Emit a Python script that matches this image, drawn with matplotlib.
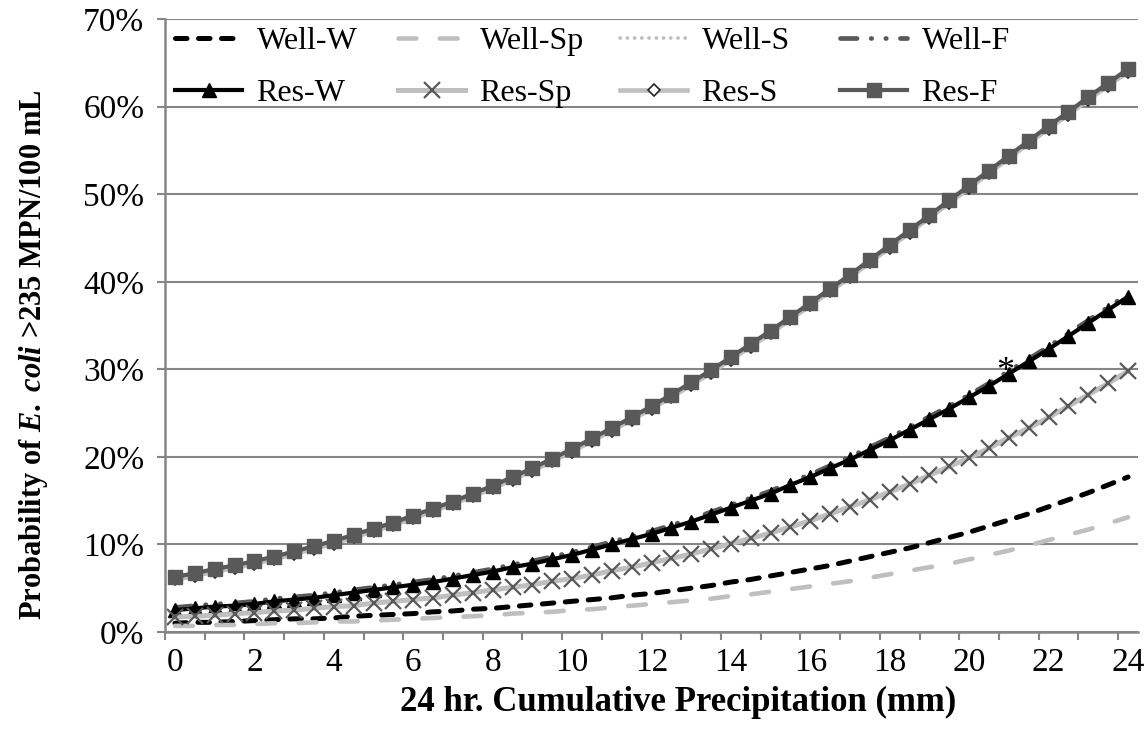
import numpy as np
import matplotlib
matplotlib.use("Agg")
import matplotlib.pyplot as plt
from matplotlib.ticker import FixedLocator, NullFormatter, FixedFormatter

plt.rcParams['font.family'] = ['Liberation Serif', 'DejaVu Serif']
plt.rcParams['mathtext.fontset'] = 'custom'
plt.rcParams['mathtext.it'] = 'Liberation Serif:italic:bold'
plt.rcParams['mathtext.rm'] = 'Liberation Serif:bold'

# 24 h cumulative precipitation (mm), one point every 0.5 mm
precip = np.arange(0, 24.5, 0.5)

# probability of E. coli > 235 MPN/100 mL (%)
well_w = [1.0, 1.1, 1.1, 1.2, 1.3, 1.4, 1.5, 1.5, 1.6, 1.8, 1.9, 2.0, 2.1, 2.3, 2.4, 2.6, 2.7,
          2.9, 3.1, 3.3, 3.5, 3.7, 3.9, 4.2, 4.4, 4.7, 5.0, 5.3, 5.7, 6.0, 6.4, 6.8, 7.2, 7.6,
          8.1, 8.6, 9.1, 9.6, 10.2, 10.8, 11.4, 12.1, 12.8, 13.5, 14.3, 15.1, 15.9, 16.8, 17.7]
well_sp = [0.7, 0.7, 0.8, 0.8, 0.9, 1.0, 1.0, 1.1, 1.2, 1.2, 1.3, 1.4, 1.5, 1.6, 1.7, 1.8, 1.9,
           2.1, 2.2, 2.3, 2.5, 2.6, 2.8, 3.0, 3.2, 3.4, 3.6, 3.8, 4.1, 4.3, 4.6, 4.9, 5.2, 5.5,
           5.8, 6.2, 6.6, 7.0, 7.4, 7.8, 8.3, 8.8, 9.3, 9.9, 10.5, 11.1, 11.7, 12.4, 13.1]
well_s = [6.2, 6.6, 7.1, 7.5, 8.0, 8.5, 9.1, 9.7, 10.3, 11.0, 11.7, 12.4, 13.2, 14.0, 14.8, 15.7,
          16.6, 17.6, 18.6, 19.7, 20.8, 22.0, 23.2, 24.4, 25.7, 27.0, 28.4, 29.8, 31.3, 32.8,
          34.3, 35.9, 37.5, 39.1, 40.7, 42.4, 44.1, 45.8, 47.5, 49.2, 50.9, 52.6, 54.3, 56.0,
          57.7, 59.3, 61.0, 62.6, 64.2]
well_f = [2.8, 3.0, 3.2, 3.3, 3.5, 3.8, 4.0, 4.2, 4.5, 4.8, 5.1, 5.4, 5.7, 6.0, 6.4, 6.8, 7.2,
          7.7, 8.1, 8.6, 9.1, 9.7, 10.3, 10.9, 11.5, 12.2, 12.9, 13.7, 14.5, 15.3, 16.1, 17.1,
          18.0, 19.0, 20.0, 21.1, 22.2, 23.4, 24.6, 25.8, 27.1, 28.4, 29.8, 31.2, 32.6, 34.1,
          35.6, 37.1, 38.6]
res_w = [2.5, 2.7, 2.9, 3.0, 3.2, 3.5, 3.7, 3.9, 4.2, 4.5, 4.8, 5.1, 5.4, 5.7, 6.1, 6.5, 6.9,
         7.4, 7.8, 8.3, 8.8, 9.4, 10.0, 10.6, 11.2, 11.9, 12.6, 13.4, 14.2, 15.0, 15.8, 16.8,
         17.7, 18.7, 19.7, 20.8, 21.9, 23.1, 24.3, 25.5, 26.8, 28.1, 29.5, 30.9, 32.3, 33.8,
         35.3, 36.8, 38.3]
res_sp = [1.7, 1.8, 1.9, 2.1, 2.2, 2.4, 2.5, 2.7, 2.9, 3.0, 3.3, 3.5, 3.7, 3.9, 4.2, 4.5, 4.8,
          5.1, 5.4, 5.8, 6.1, 6.5, 7.0, 7.4, 7.9, 8.4, 8.9, 9.5, 10.1, 10.7, 11.3, 12.0, 12.7,
          13.5, 14.3, 15.1, 16.0, 16.9, 17.9, 18.9, 19.9, 21.0, 22.2, 23.3, 24.5, 25.8, 27.1,
          28.4, 29.8]
res_s = [6.0, 6.4, 6.9, 7.3, 7.8, 8.3, 8.9, 9.5, 10.1, 10.8, 11.5, 12.2, 13.0, 13.8, 14.6, 15.5,
         16.4, 17.4, 18.4, 19.5, 20.6, 21.8, 23.0, 24.2, 25.5, 26.8, 28.2, 29.6, 31.1, 32.6,
         34.1, 35.7, 37.3, 38.9, 40.5, 42.2, 43.9, 45.6, 47.3, 49.0, 50.7, 52.4, 54.1, 55.8,
         57.5, 59.1, 60.8, 62.4, 64.0]
res_f = [6.3, 6.7, 7.2, 7.6, 8.1, 8.6, 9.2, 9.8, 10.4, 11.1, 11.8, 12.5, 13.3, 14.1, 14.9, 15.8,
         16.7, 17.7, 18.7, 19.8, 20.9, 22.1, 23.3, 24.5, 25.8, 27.1, 28.5, 29.9, 31.4, 32.9,
         34.4, 36.0, 37.6, 39.2, 40.8, 42.5, 44.2, 45.9, 47.6, 49.3, 51.0, 52.7, 54.4, 56.1,
         57.8, 59.4, 61.1, 62.7, 64.3]

x_labels = [0, 2, 4, 6, 8, 10, 12, 14, 16, 18, 20, 22, 24]
y_ticks = [0, 10, 20, 30, 40, 50, 60, 70]

BLACK = '#000000'
LIGHT = '#BFBFBF'
DARK = '#595959'
GRID = '#868686'

fig = plt.figure(figsize=(11.46, 7.34), dpi=100)
ax = fig.add_axes([0.144, 0.139, 0.849, 0.835])

h = {}
h['Well-W'], = ax.plot(precip, well_w, color=BLACK, lw=3.6, ls=(0, (2.3, 2.3)),
                       dash_capstyle='round', label='Well-W')
h['Well-Sp'], = ax.plot(precip, well_sp, color=LIGHT, lw=3.3, ls=(0, (3.9, 5.1)),
                        dash_capstyle='round', label='Well-Sp')
h['Well-S'], = ax.plot(precip, well_s, color=LIGHT, lw=2.6, ls=(0, (0.1, 1.9)),
                       dash_capstyle='round', label='Well-S')
h['Well-F'], = ax.plot(precip, well_f, color=DARK, lw=3.4, ls=(0, (3.5, 3, 0.1, 3, 0.1, 3)),
                       dash_capstyle='round', label='Well-F')
h['Res-W'], = ax.plot(precip, res_w, color=BLACK, lw=3.0, marker='^', ms=10,
                      mfc=BLACK, mec=BLACK, label='Res-W')
h['Res-Sp'], = ax.plot(precip, res_sp, color=LIGHT, lw=3.6, marker='x', ms=11,
                       mec=DARK, mew=1.6, label='Res-Sp')
h['Res-S'], = ax.plot(precip, res_s, color=LIGHT, lw=3.3, marker='D', ms=6,
                      mfc='white', mec='#262626', mew=1.2, label='Res-S')
h['Res-F'], = ax.plot(precip, res_f, color=DARK, lw=3.0, marker='s', ms=10.5,
                      mfc=DARK, mec=DARK, label='Res-F')

ax.text(20.9, 29.6, '*', fontsize=26, ha='center', va='center')

ax.set_xlim(-0.25, 24.25)
ax.set_ylim(0, 70)

# tick marks between categories, labels every 2 mm
ax.xaxis.set_major_locator(FixedLocator([k - 0.25 for k in range(25)]))
ax.xaxis.set_major_formatter(NullFormatter())
ax.xaxis.set_minor_locator(FixedLocator(x_labels))
ax.xaxis.set_minor_formatter(FixedFormatter([str(v) for v in x_labels]))
ax.tick_params(axis='x', which='major', length=6, width=1.5, color=GRID, direction='out')
ax.tick_params(axis='x', which='minor', length=0, labelsize=24, pad=11)

ax.set_yticks(y_ticks)
ax.set_yticklabels([f'{v}%' for v in y_ticks])
ax.tick_params(axis='y', length=6, width=1.5, color=GRID, direction='out', labelsize=24, pad=9)

ax.grid(axis='y', color=GRID, lw=1.5)
ax.set_axisbelow(True)
for side in ['top', 'right']:
    ax.spines[side].set_visible(False)
for side in ['left', 'bottom']:
    ax.spines[side].set_color(GRID)
    ax.spines[side].set_linewidth(1.8)

ax.set_xlabel('24 hr. Cumulative Precipitation (mm)', fontsize=25, fontweight='bold')
ax.xaxis.set_label_coords(0.527, -0.088)
ax.set_ylabel(r'Probability of $\mathit{E.\ coli}$ >235 MPN/100 mL', fontsize=22,
              fontweight='bold')
ax.yaxis.set_label_coords(-0.118, 0.452)

# legend: four equally spaced columns (Well row on top, Res row below)
columns = [('Well-W', 'Res-W'), ('Well-Sp', 'Res-Sp'), ('Well-S', 'Res-S'), ('Well-F', 'Res-F')]
col_x = [0.0103, 0.2395, 0.4676, 0.6937]
for i, (top, bottom) in enumerate(columns):
    leg = ax.legend([h[top], h[bottom]], [top, bottom], loc='upper left',
                    bbox_to_anchor=(col_x[i], 0.988), frameon=False, fontsize=23,
                    handlelength=2.1, handletextpad=0.45, labelspacing=0.72,
                    borderpad=0.0, borderaxespad=0.0)
    if i < len(columns) - 1:
        ax.add_artist(leg)

fig.savefig('out.png', dpi=100)
